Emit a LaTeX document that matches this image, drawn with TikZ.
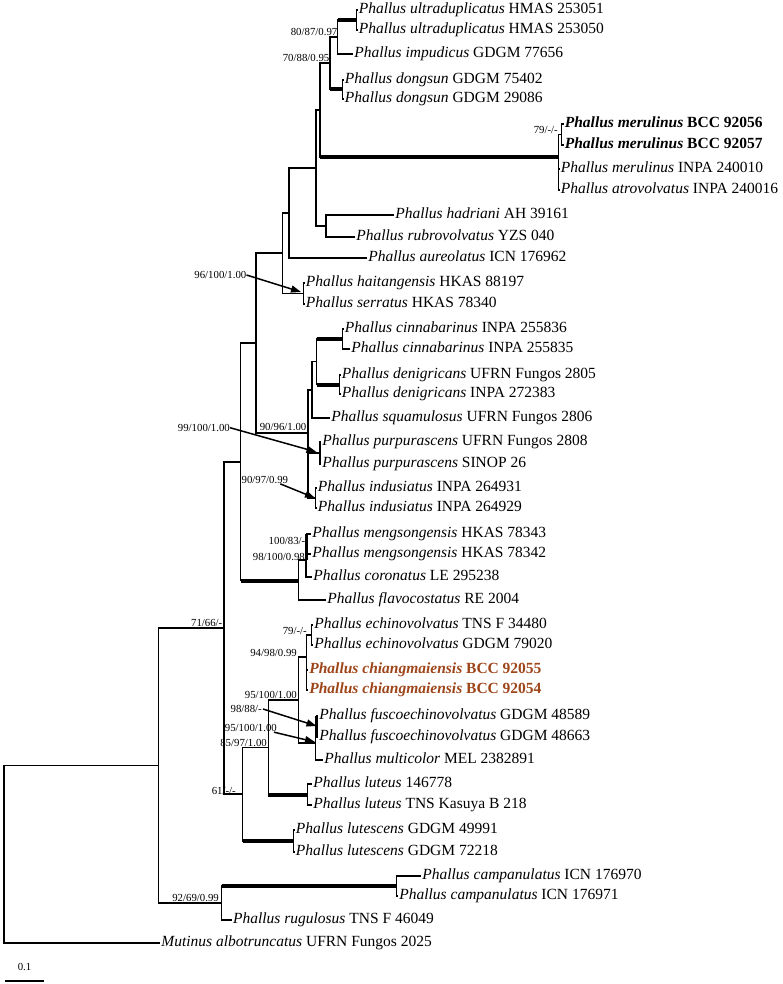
\documentclass[tikz,border=0pt]{standalone}
\usepackage{fontspec}
\setmainfont{Liberation Serif}
\usetikzlibrary{arrows.meta}
\definecolor{chbrown}{RGB}{158,70,26}
\newcommand{\taxon}[2]{\textit{#1} #2}
\newcommand{\btaxon}[2]{\textbf{\textit{#1} #2}}
\begin{document}
\begin{tikzpicture}[x=1pt,y=-1pt,
 br/.style={line width=1.2pt},
 thk/.style={line width=4pt},
 thkv/.style={line width=3pt},
 lf/.style={anchor=west,inner sep=1.2pt,font=\fontsize{15.5}{18}\selectfont,text height=10.5pt,text depth=3pt},
 sup/.style={anchor=east,inner sep=0pt,font=\fontsize{10.8}{12}\selectfont},
 arr/.style={line width=1.5pt,-{Triangle[length=10pt,width=7pt]}}
]
\useasboundingbox[fill=white] (0,0) rectangle (782,984);

% ---------- leaves ----------
\node[lf] (l1) at (357.5,10) {\taxon{Phallus ultraduplicatus}{HMAS 253051}};
\node[lf] (l2) at (357.5,30) {\taxon{Phallus ultraduplicatus}{HMAS 253050}};
\node[lf] (l3) at (353,54) {\taxon{Phallus impudicus}{GDGM 77656}};
\node[lf] (l4) at (343.5,80) {\taxon{Phallus dongsun}{GDGM 75402}};
\node[lf] (l5) at (343.5,99) {\taxon{Phallus dongsun}{GDGM 29086}};
\node[lf] (l6) at (563.5,124) {\btaxon{Phallus merulinus}{BCC 92056}};
\node[lf] (l7) at (563.5,145) {\btaxon{Phallus merulinus}{BCC 92057}};
\node[lf] (l8) at (559.5,169) {\taxon{Phallus merulinus}{INPA 240010}};
\node[lf] (l9) at (559.5,190) {\taxon{Phallus atrovolvatus}{INPA 240016}};
\node[lf] (l10) at (394,215) {\taxon{Phallus hadriani}{AH 39161}};
\node[lf] (l11) at (355,237) {\taxon{Phallus rubrovolvatus}{YZS 040}};
\node[lf] (l12) at (367,258) {\taxon{Phallus aureolatus}{ICN 176962}};
\node[lf] (l13) at (304.5,283) {\taxon{Phallus haitangensis}{HKAS 88197}};
\node[lf] (l14) at (304.5,304) {\taxon{Phallus serratus}{HKAS 78340}};
\node[lf] (l15) at (343.5,329) {\taxon{Phallus cinnabarinus}{INPA 255836}};
\node[lf] (l16) at (350,349) {\taxon{Phallus cinnabarinus}{INPA 255835}};
\node[lf] (l17) at (340.5,375) {\taxon{Phallus denigricans}{UFRN Fungos 2805}};
\node[lf] (l18) at (340.5,394) {\taxon{Phallus denigricans}{INPA 272383}};
\node[lf] (l19) at (330,418) {\taxon{Phallus squamulosus}{UFRN Fungos 2806}};
\node[lf] (l20) at (321,442) {\taxon{Phallus purpurascens}{UFRN Fungos 2808}};
\node[lf] (l21) at (321,464) {\taxon{Phallus purpurascens}{SINOP 26}};
\node[lf] (l22) at (316.5,488) {\taxon{Phallus indusiatus}{INPA 264931}};
\node[lf] (l23) at (316.5,508) {\taxon{Phallus indusiatus}{INPA 264929}};
\node[lf] (l24) at (311,534) {\taxon{Phallus mengsongensis}{HKAS 78343}};
\node[lf] (l25) at (311,554) {\taxon{Phallus mengsongensis}{HKAS 78342}};
\node[lf] (l26) at (312,577) {\taxon{Phallus coronatus}{LE 295238}};
\node[lf] (l27) at (326,600) {\taxon{Phallus flavocostatus}{RE 2004}};
\node[lf] (l28) at (313,625) {\taxon{Phallus echinovolvatus}{TNS F 34480}};
\node[lf] (l29) at (313,645) {\taxon{Phallus echinovolvatus}{GDGM 79020}};
\node[lf,text=chbrown] (l30) at (308,670) {\btaxon{Phallus chiangmaiensis}{BCC 92055}};
\node[lf,text=chbrown] (l31) at (308,690) {\btaxon{Phallus chiangmaiensis}{BCC 92054}};
\node[lf] (l32) at (318,716) {\taxon{Phallus fuscoechinovolvatus}{GDGM 48589}};
\node[lf] (l33) at (318,737) {\taxon{Phallus fuscoechinovolvatus}{GDGM 48663}};
\node[lf] (l34) at (323,760) {\taxon{Phallus multicolor}{MEL 2382891}};
\node[lf] (l35) at (312,784) {\taxon{Phallus luteus}{146778}};
\node[lf] (l36) at (312,805) {\taxon{Phallus luteus}{TNS Kasuya B 218}};
\node[lf] (l37) at (294.5,830) {\taxon{Phallus lutescens}{GDGM 49991}};
\node[lf] (l38) at (294.5,852) {\taxon{Phallus lutescens}{GDGM 72218}};
\node[lf] (l39) at (421,876) {\taxon{Phallus campanulatus}{ICN 176970}};
\node[lf] (l40) at (398,896) {\taxon{Phallus campanulatus}{ICN 176971}};
\node[lf] (l41) at (231.7,920) {\taxon{Phallus rugulosus}{TNS F 46049}};
\node[lf] (l42) at (160,943) {\taxon{Mutinus albotruncatus}{UFRN Fungos 2025}};

% ---------- internal nodes ----------
\coordinate (nU2) at (356.7,20);
\coordinate (nA) at (337.7,37);
\coordinate (nDg) at (342.7,89.5);
\coordinate (nB) at (330,63);
\coordinate (nMb) at (561.7,134.5);
\coordinate (nMr) at (558.3,157);
\coordinate (nC) at (320,110);
\coordinate (nHr) at (326,226);
\coordinate (nD) at (316,168);
\coordinate (nE) at (289,213);
\coordinate (nHt) at (303.3,293.5);
\coordinate (nF) at (282.7,253);
\coordinate (nCn) at (342.3,339);
\coordinate (nDn) at (339.3,384.5);
\coordinate (nI) at (316.7,361.7);
\coordinate (nJ) at (312,390);
\coordinate (nPp) at (320,453);
\coordinate (nIn) at (315.5,498);
\coordinate (nH) at (308,433);
\coordinate (nG) at (256,343);
\coordinate (nMg) at (306.5,544);
\coordinate (nM) at (306,560);
\coordinate (nL) at (298.3,580.5);
\coordinate (nK) at (240.7,462);
\coordinate (nEc) at (311.7,635);
\coordinate (nP) at (306.7,657);
\coordinate (nFs) at (316.5,726.5);
\coordinate (nR) at (315.7,743);
\coordinate (nQ) at (298.3,700);
\coordinate (nLt) at (307.3,794.5);
\coordinate (nS) at (268.3,747.5);
\coordinate (nLs) at (293.3,841);
\coordinate (nT) at (242.7,794);
\coordinate (nN) at (224,628);
\coordinate (nCp) at (396.7,886);
\coordinate (nU) at (221.7,903);
\coordinate (nO) at (158.3,765.5);
\coordinate (nRoot) at (4,854);

% ---------- branches ----------
\draw[br] (nU2) |- (l1.west);
\draw[br] (nU2) |- (l2.west);
\draw[br] (nA) |- (nU2);
\draw[thk] (nA |- nU2) -- (nU2);
\draw[br] (nA) |- (l3.west);
\draw[br] (nB) |- (nA);
\draw[br] (nB) |- (nDg);
\draw[thk] (nB |- nDg) -- (nDg);
\draw[br] (nDg) |- (l4.west);
\draw[br] (nDg) |- (l5.west);
\draw[br] (nC) |- (nB);
\draw[br] (nC) |- (nMr);
\draw[thk] (nC |- nMr) -- (nMr);
\draw[br] (nMr) |- (nMb);
\draw[br] (nMr) |- (l8.west);
\draw[br] (nMr) |- (l9.west);
\draw[br] (nMb) |- (l6.west);
\draw[br] (nMb) |- (l7.west);
\draw[br] (nD) |- (nC);
\draw[br] (nD) |- (nHr);
\draw[br] (nHr) |- (l10.west);
\draw[br] (nHr) |- (l11.west);
\draw[br] (nE) |- (nD);
\draw[br] (nE) |- (l12.west);
\draw[br] (nF) |- (nE);
\draw[br] (nF) |- (nHt);
\draw[br] (nHt) |- (l13.west);
\draw[br] (nHt) |- (l14.west);
\draw[br] (nG) |- (nF);
\draw[br] (nG) |- (nH);
\draw[br] (nH) |- (nJ);
\draw[br] (nH) |- (nPp);
\draw[br] (nH) |- (nIn);
\draw[br] (nJ) |- (nI);
\draw[br] (nJ) |- (l19.west);
\draw[br] (nI) |- (nCn);
\draw[thk] (nI |- nCn) -- (nCn);
\draw[br] (nI) |- (nDn);
\draw[thk] (nI |- nDn) -- (nDn);
\draw[br] (nCn) |- (l15.west);
\draw[br] (nCn) |- (l16.west);
\draw[br] (nDn) |- (l17.west);
\draw[br] (nDn) |- (l18.west);
\draw[br] (nPp) |- (l20.west);
\draw[br] (nPp) |- (l21.west);
\draw[br] (nIn) |- (l22.west);
\draw[br] (nIn) |- (l23.west);
\draw[br] (nK) |- (nG);
\draw[br] (nK) |- (nL);
\draw[thk] (nK |- nL) -- (nL);
\draw[br] (nL) |- (nM);
\draw[br] (nL) |- (l27.west);
\draw[br] (nM) |- (nMg);
\draw[br] (nM) |- (l26.west);
\draw[br] (nMg) |- (l24.west);
\draw[br] (nMg) |- (l25.west);
\draw[thkv] (nMg |- l24.west) -- (nMg |- nM);
\draw[br] (nN) |- (nK);
\draw[br] (nN) |- (nT);
\draw[br] (nT) |- (nS);
\draw[br] (nT) |- (nLs);
\draw[thk] (nT |- nLs) -- (nLs);
\draw[br] (nLs) |- (l37.west);
\draw[br] (nLs) |- (l38.west);
\draw[br] (nS) |- (nQ);
\draw[br] (nS) |- (nLt);
\draw[thk] (nS |- nLt) -- (nLt);
\draw[br] (nLt) |- (l35.west);
\draw[br] (nLt) |- (l36.west);
\draw[br] (nQ) |- (nP);
\draw[br] (nQ) |- (nR);
\draw[br] (nP) |- (nEc);
\draw[br] (nP) |- (l30.west);
\draw[br] (nP) |- (l31.west);
\draw[br] (nEc) |- (l28.west);
\draw[br] (nEc) |- (l29.west);
\draw[br] (nR) |- (nFs);
\draw[br] (nR) |- (l34.west);
\draw[br] (nFs) |- (l32.west);
\draw[br] (nFs) |- (l33.west);
\draw[thkv] (nFs |- l32.west) -- (nFs |- l33.west);
\draw[br] (nO) |- (nN);
\draw[br] (nO) |- (nU);
\draw[br] (nU) |- (nCp);
\draw[thk] (nU |- nCp) -- (nCp);
\draw[br] (nU) |- (l41.west);
\draw[br] (nCp) |- (l39.west);
\draw[br] (nCp) |- (l40.west);
\draw[br] (nRoot) |- (nO);
\draw[br] (nRoot) |- (l42.west);

% ---------- support values ----------
\node[sup] (s1) at (337.5,32) {80/87/0.97};
\node[sup] (s2) at (329.5,58) {70/88/0.95};
\node[sup] (s3) at (558,130) {79/-/-};
\node[sup] (s4) at (246.5,275) {96/100/1.00};
\node[sup] (s5) at (306.5,427) {90/96/1.00};
\node[sup] (s6) at (230,427.7) {99/100/1.00};
\node[sup] (s7) at (288.3,480) {90/97/0.99};
\node[sup] (s8) at (305.5,540.7) {100/83/-};
\node[sup] (s9) at (305,557) {98/100/0.98};
\node[sup] (s10) at (222.5,623) {71/66/-};
\node[sup] (s11) at (307,631) {79/-/-};
\node[sup] (s12) at (297,653) {94/98/0.99};
\node[sup] (s13) at (297,695) {95/100/1.00};
\node[sup] (s14) at (262,709) {98/88/-};
\node[sup] (s15) at (277,728.3) {95/100/1.00};
\node[sup] (s16) at (267,743) {85/97/1.00};
\node[sup] (s17) at (236,790.7) {61/-/-};
\node[sup] (s18) at (219,898) {92/69/0.99};

% ---------- arrows ----------
\coordinate (a4) at (301,292);
\coordinate (a6) at (316.5,452);
\coordinate (a7) at (315,498);
\coordinate (a14) at (316.5,726);
\coordinate (a15) at (315,742);
\draw[arr] (s4.east) -- (a4);
\draw[arr] (s6.east) -- (a6);
\draw[arr] ([xshift=-8pt]s7.south east) -- (a7);
\draw[arr] ([xshift=1pt]s14.east) -- (a14);
\draw[arr] ([xshift=-3pt]s15.south east) -- (a15);

% ---------- scale bar ----------
\coordinate (sb1) at (5,981);
\coordinate (sb2) at (44,981);
\draw[br] (sb1) -- (sb2);
\node[font=\fontsize{10.8}{12}\selectfont,inner sep=0pt] (sbl) at (24.5,967) {0.1};
\end{tikzpicture}
\end{document}
